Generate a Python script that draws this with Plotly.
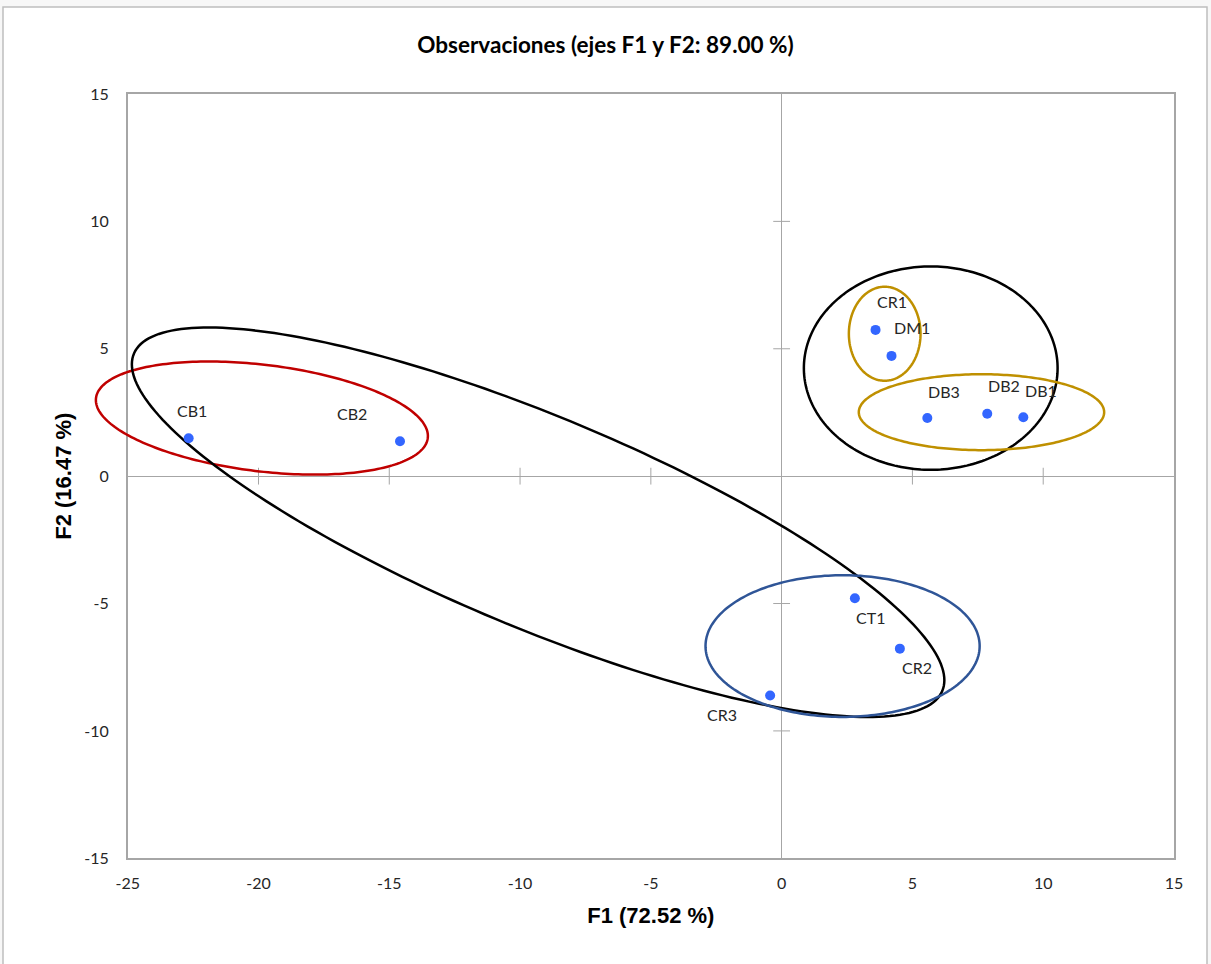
import numpy as np
import plotly.graph_objects as go

# Observations on the first two factorial axes
labels = ["CB1", "CB2", "CR1", "DM1", "DB3", "DB2", "DB1", "CT1", "CR2", "CR3"]
f1 = [-22.67, -14.59, 3.59, 4.20, 5.57, 7.86, 9.24, 2.80, 4.52, -0.44]
f2 = [1.49, 1.37, 5.74, 4.72, 2.28, 2.45, 2.31, -4.79, -6.77, -8.61]

# Grouping ellipses: centre, semi-axes and rotation (degrees) in F1/F2 units
group_cx = [-19.87, -9.31, 5.70, 3.94, 7.64, 2.33]
group_cy = [2.28, -1.81, 4.24, 5.59, 2.51, -6.67]
group_a = [6.39, 16.81, 4.85, 1.37, 4.69, 5.24]
group_b = [2.09, 4.13, 3.99, 1.845, 1.49, 2.78]
group_angle = [-7.1, -23.25, 0.0, 0.0, 0.0, 0.0]
group_color = ["#C00000", "#000000", "#000000", "#BF9000", "#BF9000", "#2F5597"]

tick_vals_x = [-25, -20, -15, -10, -5, 0, 5, 10, 15]
tick_vals_y = [-15, -10, -5, 0, 5, 10, 15]

# Pixel offsets of each point label (x right, y up)
label_dx = [3, -48, 16, 20, 17, 17, 18, 16, 17, -48]
label_dy = [28, 28, 28, 28, 27, 28, 27, -19, -19, -19]

W, H = 1211, 964
X_RANGE = [-25, 15]
Y_RANGE = [-15, 15]
# plot frame in pixels
FL, FR, FT, FB = 127.7, 1174.0, 94.0, 858.3
xd = [FL / W, FR / W]
yd = [1 - FB / H, 1 - FT / H]

# Overlay axes spanning the whole page, on the same scale, so that the
# ellipses may run outside the frame without being clipped
ux = (X_RANGE[1] - X_RANGE[0]) / (FR - FL)
uy = (Y_RANGE[1] - Y_RANGE[0]) / (FB - FT)
x2_range = [X_RANGE[0] - FL * ux, X_RANGE[1] + (W - FR) * ux]
y2_range = [Y_RANGE[0] - (H - FB) * uy, Y_RANGE[1] + FT * uy]

AXIS_GREY = "#A6A6A6"
BODY_FONT = "Lato"


def tick_text(vals):
    # plain hyphen for negatives
    return [str(v) for v in vals]


fig = go.Figure()

# tick marks crossing the zero lines
inner_x = [v for v in tick_vals_x if v not in (0, X_RANGE[0], X_RANGE[1])]
inner_y = [v for v in tick_vals_y if v not in (0, Y_RANGE[0], Y_RANGE[1])]
fig.add_trace(go.Scatter(
    x=inner_x, y=[0] * len(inner_x), mode="markers", xaxis="x", yaxis="y",
    marker=dict(symbol="line-ns", size=12, line=dict(color=AXIS_GREY, width=1)),
    hoverinfo="skip", showlegend=False))
fig.add_trace(go.Scatter(
    x=[0] * len(inner_y), y=inner_y, mode="markers", xaxis="x", yaxis="y",
    marker=dict(symbol="line-ew", size=12, line=dict(color=AXIS_GREY, width=1)),
    hoverinfo="skip", showlegend=False))

# observations
fig.add_trace(go.Scatter(
    x=f1, y=f2, mode="markers", xaxis="x2", yaxis="y2",
    marker=dict(color="#3366FF", size=10),
    text=labels, hoverinfo="text", showlegend=False))

for name, x, y, dx, dy in zip(labels, f1, f2, label_dx, label_dy):
    fig.add_annotation(
        x=x, y=y, xref="x2", yref="y2", text=name, showarrow=False,
        xshift=dx, yshift=dy,
        font=dict(family=BODY_FONT, size=16, color="#262626"))

# ellipses
t = np.linspace(0, 2 * np.pi, 241)
for cx, cy, a, b, ang, col in zip(group_cx, group_cy, group_a, group_b,
                                  group_angle, group_color):
    th = np.deg2rad(ang)
    ex = cx + a * np.cos(th) * np.cos(t) - b * np.sin(th) * np.sin(t)
    ey = cy + a * np.sin(th) * np.cos(t) + b * np.cos(th) * np.sin(t)
    path = "M " + " L ".join(f"{px:.4f},{py:.4f}" for px, py in zip(ex, ey)) + " Z"
    fig.add_shape(type="path", path=path, xref="x2", yref="y2",
                  line=dict(color=col, width=2.5), layer="below")

# page frame
fig.add_shape(type="rect", xref="paper", yref="paper",
              x0=3 / W, x1=1207 / W, y0=-0.02, y1=1 - 7 / H,
              line=dict(color="#BFBFBF", width=1.5), fillcolor="white",
              layer="below")

fig.update_layout(
    width=W, height=H,
    margin=dict(l=0, r=0, t=0, b=0, autoexpand=False),
    paper_bgcolor="#F7F7F7",
    plot_bgcolor="rgba(0,0,0,0)",
    showlegend=False,
    title=dict(text="<b>Observaciones (ejes F1 y F2: 89.00 %)</b>",
               x=0.5, xanchor="center", y=1 - 45 / H, yanchor="middle",
               font=dict(family=BODY_FONT, size=22.5, color="#000000")),
    xaxis=dict(domain=xd, range=X_RANGE, tickvals=tick_vals_x,
               ticktext=tick_text(tick_vals_x),
               showgrid=False, zeroline=True, zerolinecolor=AXIS_GREY,
               zerolinewidth=1, showline=True, mirror=True,
               linecolor=AXIS_GREY, linewidth=1.5, ticks="",
               ticklabelstandoff=10, anchor="y",
               tickfont=dict(family=BODY_FONT, size=16, color="#262626"),
               title=dict(text="<b>F1 (72.52 %)</b>", standoff=16,
                          font=dict(family="Liberation Sans", size=22,
                                    color="#000000"))),
    yaxis=dict(domain=yd, range=Y_RANGE, tickvals=tick_vals_y,
               ticktext=tick_text(tick_vals_y),
               showgrid=False, zeroline=True, zerolinecolor=AXIS_GREY,
               zerolinewidth=1, showline=True, mirror=True,
               linecolor=AXIS_GREY, linewidth=1.5, ticks="",
               ticklabelstandoff=14, anchor="x",
               tickfont=dict(family=BODY_FONT, size=16, color="#262626"),
               title=dict(text="<b>F2 (16.47 %)</b>", standoff=7,
                          font=dict(family="Liberation Sans", size=22,
                                    color="#000000"))),
    xaxis2=dict(domain=[0, 1], range=x2_range, visible=False, anchor="y2",
                fixedrange=True),
    yaxis2=dict(domain=[0, 1], range=y2_range, visible=False, anchor="x2",
                fixedrange=True),
)

fig.write_html("out.html")
